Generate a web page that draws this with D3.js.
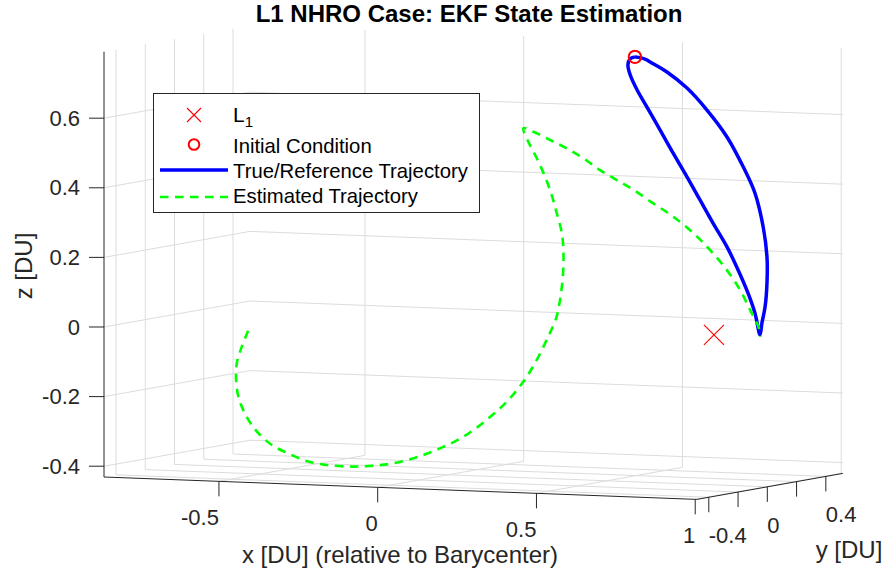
<!DOCTYPE html>
<html>
<head>
<meta charset="utf-8">
<script src="https://cdn.jsdelivr.net/npm/d3@7"></script>
<style>
body { margin: 0; background: #fff; }
text { font-family: "Liberation Sans", Arial, sans-serif; }
</style>
</head>
<body>
<script>
// axis limits [DU]
var xLim = [-0.862, 1.005];
var yLim = [-0.482, 0.516];
var zLim = [-0.431, 0.791];

var xTicks = [-0.5, 0, 0.5, 1];
var yTicks = [-0.4, -0.2, 0, 0.2, 0.4];
var yTickLabels = ["-0.4", "", "0", "", "0.4"];
var zTicks = [-0.4, -0.2, 0, 0.2, 0.4, 0.6];

var L1 = [0.8369, 0, 0];
var initCond = [0.588, 0, 0.790];

// true/reference trajectory (y read as 0 from the view)
var trueX = [0.588, 0.620, 0.636, 0.689, 0.752, 0.815, 0.878, 0.929, 0.966, 0.992, 1.004, 1.004, 0.998, 0.988, 0.982,
             0.966, 0.944, 0.913, 0.878, 0.834, 0.793, 0.752, 0.708, 0.667, 0.626, 0.595, 0.573, 0.566, 0.573, 0.588];
var trueZ = [0.790, 0.785, 0.777, 0.750, 0.706, 0.645, 0.570, 0.486, 0.412, 0.315, 0.229, 0.155, 0.086, 0.039, 0.005,
             0.067, 0.124, 0.189, 0.254, 0.321, 0.386, 0.451, 0.518, 0.583, 0.647, 0.695, 0.738, 0.766, 0.784, 0.790];

// estimated trajectory (EKF)
var estX = [-0.630, -0.650, -0.666, -0.668, -0.661, -0.643, -0.619, -0.587, -0.551, -0.504, -0.446, -0.383, -0.309,
            -0.246, -0.173, -0.099, -0.026, 0.048, 0.121, 0.184, 0.237, 0.279, 0.315, 0.340, 0.352, 0.361, 0.363,
            0.358, 0.342, 0.326, 0.305, 0.279, 0.252, 0.237,
            0.268, 0.321, 0.373, 0.426, 0.478, 0.531, 0.583, 0.646, 0.709, 0.772, 0.825, 0.877, 0.919, 0.951, 0.977, 0.984];
var estZ = [-0.039, -0.085, -0.134, -0.182, -0.229, -0.272, -0.309, -0.342, -0.367, -0.387, -0.407, -0.416, -0.418,
            -0.414, -0.404, -0.384, -0.356, -0.320, -0.269, -0.215, -0.155, -0.091, -0.023, 0.031, 0.083, 0.151, 0.218,
            0.275, 0.332, 0.384, 0.436, 0.488, 0.535, 0.573,
            0.564, 0.542, 0.520, 0.493, 0.461, 0.434, 0.408, 0.371, 0.335, 0.290, 0.243, 0.188, 0.132, 0.075, 0.028, 0.000];

var W = 888, H = 577;
var svg = d3.select("body").append("svg").attr("width", W).attr("height", H);

// 3D view: each axis is a pair of linear scales (screen dx, dy)
var origin = [104, 477];
var xH = d3.scaleLinear().domain(xLim).range([0, 592.8]);
var xV = d3.scaleLinear().domain(xLim).range([0, 22.4]);
var yH = d3.scaleLinear().domain(yLim).range([0, 146]);
var yV = d3.scaleLinear().domain(yLim).range([0, -26]);
var zV = d3.scaleLinear().domain(zLim).range([0, -425.3]);

function proj(p) {
    return [origin[0] + xH(p[0]) + yH(p[1]), origin[1] + xV(p[0]) + yV(p[1]) + zV(p[2])];
}

// grid on the three back planes
var grid = [];
xTicks.forEach(t => {
    grid.push([[t, yLim[0], zLim[0]], [t, yLim[1], zLim[0]]]);
    grid.push([[t, yLim[1], zLim[0]], [t, yLim[1], zLim[1]]]);
});
yTicks.forEach(t => {
    grid.push([[xLim[0], t, zLim[0]], [xLim[1], t, zLim[0]]]);
    grid.push([[xLim[0], t, zLim[0]], [xLim[0], t, zLim[1]]]);
});
zTicks.forEach(t => {
    grid.push([[xLim[0], yLim[0], t], [xLim[0], yLim[1], t]]);
    grid.push([[xLim[0], yLim[1], t], [xLim[1], yLim[1], t]]);
});

svg.append("g").selectAll("line").data(grid).enter().append("line")
    .attr("x1", d => proj(d[0])[0]).attr("y1", d => proj(d[0])[1])
    .attr("x2", d => proj(d[1])[0]).attr("y2", d => proj(d[1])[1])
    .style("stroke", "#dcdcdc").style("stroke-width", 1);

// axis lines
var axisCol = "#262626";
var axes = [
    [[xLim[0], yLim[0], zLim[0]], [xLim[0], yLim[0], zLim[1]]],
    [[xLim[0], yLim[0], zLim[0]], [xLim[1], yLim[0], zLim[0]]],
    [[xLim[1], yLim[0], zLim[0]], [xLim[1], yLim[1], zLim[0]]]
];
svg.append("g").selectAll("line").data(axes).enter().append("line")
    .attr("x1", d => proj(d[0])[0]).attr("y1", d => proj(d[0])[1])
    .attr("x2", d => proj(d[1])[0]).attr("y2", d => proj(d[1])[1])
    .style("stroke", axisCol).style("stroke-width", 1);

var tickLen = 15;

// z ticks
var zt = svg.append("g");
zTicks.forEach(t => {
    var p = proj([xLim[0], yLim[0], t]);
    zt.append("line").attr("x1", p[0] - tickLen).attr("y1", p[1]).attr("x2", p[0]).attr("y2", p[1])
        .style("stroke", axisCol);
    zt.append("text").attr("x", p[0] - 24).attr("y", p[1]).attr("dy", "0.35em")
        .style("text-anchor", "end").style("font-size", "22px").style("fill", axisCol)
        .text(String(t));
});

// x ticks
var xt = svg.append("g");
xTicks.forEach(t => {
    var p = proj([t, yLim[0], zLim[0]]);
    xt.append("line").attr("x1", p[0]).attr("y1", p[1]).attr("x2", p[0]).attr("y2", p[1] + tickLen)
        .style("stroke", axisCol);
    xt.append("text").attr("x", p[0]).attr("y", p[1] + 44)
        .style("text-anchor", "end").style("font-size", "22px").style("fill", axisCol)
        .text(String(t));
});

// y ticks
var yt = svg.append("g");
yTicks.forEach((t, i) => {
    var p = proj([xLim[1], t, zLim[0]]);
    yt.append("line").attr("x1", p[0]).attr("y1", p[1]).attr("x2", p[0]).attr("y2", p[1] + tickLen)
        .style("stroke", axisCol);
    yt.append("text").attr("x", p[0]).attr("y", p[1] + 46)
        .style("text-anchor", "start").style("font-size", "22px").style("fill", axisCol)
        .text(yTickLabels[i]);
});

// axis labels
svg.append("text")
    .attr("transform", "translate(32,266) rotate(-90)")
    .style("text-anchor", "middle").style("font-size", "24px").style("fill", axisCol)
    .text("z [DU]");

svg.append("text")
    .attr("x", 400).attr("y", 563)
    .style("text-anchor", "middle").style("font-size", "24px").style("fill", axisCol)
    .text("x [DU] (relative to Barycenter)");

svg.append("text")
    .attr("x", 849).attr("y", 558)
    .style("text-anchor", "middle").style("font-size", "24px").style("fill", axisCol)
    .text("y [DU]");

// title
svg.append("text")
    .attr("x", 469).attr("y", 22)
    .style("text-anchor", "middle").style("font-size", "24px").style("font-weight", "bold").style("fill", "#000")
    .text("L1 NHRO Case: EKF State Estimation");

// trajectories
var line3 = d3.line().x(d => proj(d)[0]).y(d => proj(d)[1]).curve(d3.curveCatmullRom.alpha(0.5));

var truePts = trueX.map((x, i) => [x, 0, trueZ[i]]);
var estPts = estX.map((x, i) => [x, 0, estZ[i]]);

svg.append("path")
    .datum(truePts)
    .attr("d", line3)
    .style("fill", "none").style("stroke", "#0000ff").style("stroke-width", 3.5)
    .style("stroke-linejoin", "round");

svg.append("path")
    .datum(estPts)
    .attr("d", line3)
    .style("fill", "none").style("stroke", "#00ff00").style("stroke-width", 2.6)
    .style("stroke-dasharray", "8.5,6.5");

// L1 point marker
var pL1 = proj(L1);
svg.append("path")
    .attr("d", "M" + (pL1[0] - 10) + "," + (pL1[1] - 10) + "L" + (pL1[0] + 10) + "," + (pL1[1] + 10) +
               "M" + (pL1[0] - 10) + "," + (pL1[1] + 10) + "L" + (pL1[0] + 10) + "," + (pL1[1] - 10))
    .style("stroke", "#ff0000").style("stroke-width", 1.1).style("fill", "none");

// initial condition
var pIC = proj(initCond);
svg.append("circle").attr("cx", pIC[0]).attr("cy", pIC[1]).attr("r", 6.2)
    .style("fill", "none").style("stroke", "#ff0000").style("stroke-width", 2);

// legend
var lg = svg.append("g");
lg.append("rect").attr("x", 153.5).attr("y", 93.5).attr("width", 326).attr("height", 119)
    .style("fill", "#fff").style("stroke", axisCol).style("stroke-width", 1);

lg.append("path")
    .attr("d", "M187,108L201,122M187,122L201,108")
    .style("stroke", "#ff0000").style("stroke-width", 1.1);
var l1Text = lg.append("text").attr("x", 233).attr("y", 122).style("font-size", "21px").style("fill", "#000");
l1Text.append("tspan").text("L");
l1Text.append("tspan").attr("dy", 5).style("font-size", "15px").text("1");

lg.append("circle").attr("cx", 194).attr("cy", 144.5).attr("r", 5.3)
    .style("fill", "none").style("stroke", "#ff0000").style("stroke-width", 2);
lg.append("text").attr("x", 233).attr("y", 153).style("font-size", "20.3px").style("fill", "#000")
    .text("Initial Condition");

lg.append("line").attr("x1", 160).attr("y1", 170).attr("x2", 228).attr("y2", 170)
    .style("stroke", "#0000ff").style("stroke-width", 3.5);
lg.append("text").attr("x", 233).attr("y", 178).style("font-size", "20.3px").style("fill", "#000")
    .text("True/Reference Trajectory");

lg.append("line").attr("x1", 160).attr("y1", 197).attr("x2", 228).attr("y2", 197)
    .style("stroke", "#00ff00").style("stroke-width", 2.6).style("stroke-dasharray", "8.5,6.5");
lg.append("text").attr("x", 233).attr("y", 203).style("font-size", "20.3px").style("fill", "#000")
    .text("Estimated Trajectory");
</script>
</body>
</html>
